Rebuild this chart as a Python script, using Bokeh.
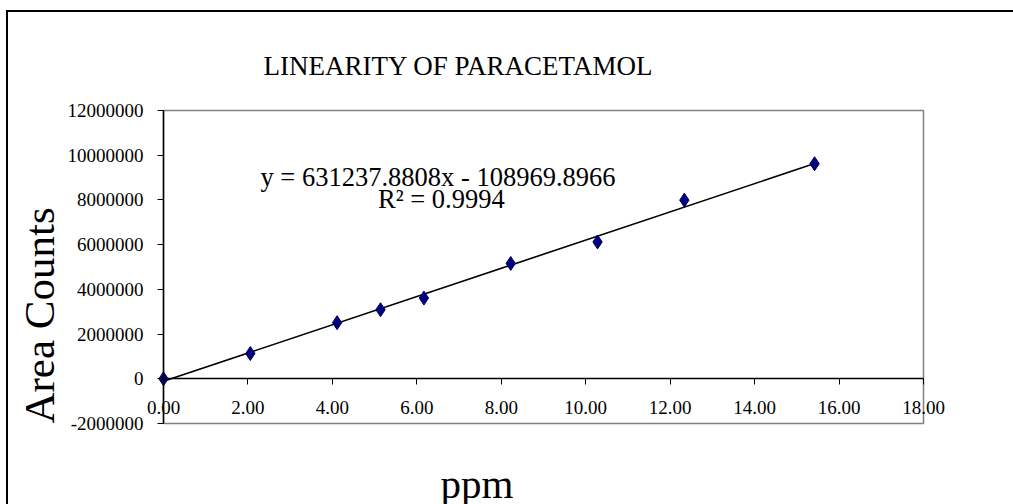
from bokeh.plotting import figure
from bokeh.models import Range1d, FixedTicker, PrintfTickFormatter, LinearAxis, Label
from bokeh.embed import file_html
from bokeh.resources import INLINE
import math

# Calibration standards (ppm) and measured peak areas
ppm = [0.0, 2.056, 4.112, 5.14, 6.168, 8.224, 10.28, 12.336, 15.42]
area = [0, 1130000, 2510000, 3090000, 3610000, 5160000, 6120000, 7990000, 9620000]

# Least-squares fit reported for the series
slope = 631237.8808
intercept = -108969.8966
r_squared = 0.9994

x_ticks = [0, 2, 4, 6, 8, 10, 12, 14, 16, 18]
y_ticks = [-2000000, 0, 2000000, 4000000, 6000000, 8000000, 10000000, 12000000]

title_text = "LINEARITY  OF PARACETAMOL"
x_label = "ppm"
y_label = "Area Counts"

SERIF = "Liberation Serif"

# Canvas size and where the plot box sits on it (pixels)
W, H = 1013, 504
BOX_L, BOX_R, BOX_T, BOX_B = 163, 923, 110, 423
X_MIN, X_MAX = 0, 18
Y_MIN, Y_MAX = -2000000, 12000000

# Extend the ranges so the whole canvas is drawing area and the
# box keeps its place; all texts then stay unclipped.
px_x = (BOX_R - BOX_L) / (X_MAX - X_MIN)
px_y = (BOX_B - BOX_T) / (Y_MAX - Y_MIN)
x_range = Range1d(X_MIN - BOX_L / px_x, X_MAX + (W - BOX_R) / px_x)
y_range = Range1d(Y_MIN - (H - BOX_B) / px_y, Y_MAX + BOX_T / px_y)

p = figure(
    frame_width=W, frame_height=H,
    x_range=x_range, y_range=y_range,
    x_axis_type=None, y_axis_type=None,
    min_border=0,
    output_backend="svg", toolbar_location=None,
)
p.border_fill_color = None
p.background_fill_color = None
p.outline_line_color = None
# thin black page frame on the left and top edges
p.styles = {
    "background": "linear-gradient(#000,#000) 6px 10px / 2px 100% no-repeat, "
                  "linear-gradient(#000,#000) 6px 10px / 100% 2px no-repeat, #fff"
}

# plot box
p.quad(left=[X_MIN], right=[X_MAX], bottom=[Y_MIN], top=[Y_MAX],
       fill_color="white", line_color="#808080", line_width=1.5)

# value axis along x = 0
yaxis = LinearAxis(
    fixed_location=0,
    bounds=(Y_MIN, Y_MAX),
    ticker=FixedTicker(ticks=y_ticks),
    formatter=PrintfTickFormatter(format="%d"),
)
yaxis.axis_line_color = "black"
yaxis.axis_line_width = 1.5
yaxis.major_tick_in = 0
yaxis.major_tick_out = 6
yaxis.minor_tick_line_color = None
yaxis.major_label_text_font = SERIF
yaxis.major_label_text_font_size = "19px"
yaxis.major_label_text_color = "black"
yaxis.major_label_standoff = 14
p.add_layout(yaxis, "left")

# concentration axis crossing at zero
xaxis = LinearAxis(
    fixed_location=0,
    bounds=(X_MIN, X_MAX),
    ticker=FixedTicker(ticks=x_ticks),
    formatter=PrintfTickFormatter(format="%.2f"),
)
xaxis.axis_line_color = "black"
xaxis.axis_line_width = 1.5
xaxis.major_tick_in = 0
xaxis.major_tick_out = 6
xaxis.minor_tick_line_color = None
xaxis.major_label_text_font = SERIF
xaxis.major_label_text_font_size = "19px"
xaxis.major_label_text_color = "black"
xaxis.major_label_standoff = 16
p.add_layout(xaxis, "below")

# trend line from the fitted equation
fit_x = [0.0, max(ppm)]
fit_y = [slope * v + intercept for v in fit_x]
p.line(fit_x, fit_y, line_color="black", line_width=1.6)

p.scatter(ppm, area, marker="diamond", size=14,
          fill_color="#000080", line_color="#000060", line_width=1)

eq_text = f"y = {slope:.4f}x  - {abs(intercept):.4f}"
r2_text = f"R\u00b2 = {r_squared:.4f}"
p.add_layout(Label(x=6.58, y=9030000, text=eq_text, text_align="center",
                   text_baseline="alphabetic", text_font=SERIF,
                   text_font_size="26.5px", text_color="black"))
p.add_layout(Label(x=6.58, y=8050000, text=r2_text, text_align="center",
                   text_baseline="alphabetic", text_font=SERIF,
                   text_font_size="26.5px", text_color="black"))

# chart title and axis titles
p.add_layout(Label(x=2.37, y=13970000, text=title_text, text_align="left",
                   text_baseline="alphabetic", text_font=SERIF,
                   text_font_size="27px", text_color="black"))
p.add_layout(Label(x=6.56, y=-4700000, text=x_label, text_align="left",
                   text_baseline="alphabetic", text_font=SERIF,
                   text_font_size="41px", text_color="black"))
p.add_layout(Label(x=-2.93, y=-2000000, text=y_label, text_align="left",
                   text_baseline="alphabetic", angle=math.pi / 2,
                   text_font=SERIF, text_font_size="43px", text_color="black"))

open("out.html", "w").write(file_html(p, INLINE))
